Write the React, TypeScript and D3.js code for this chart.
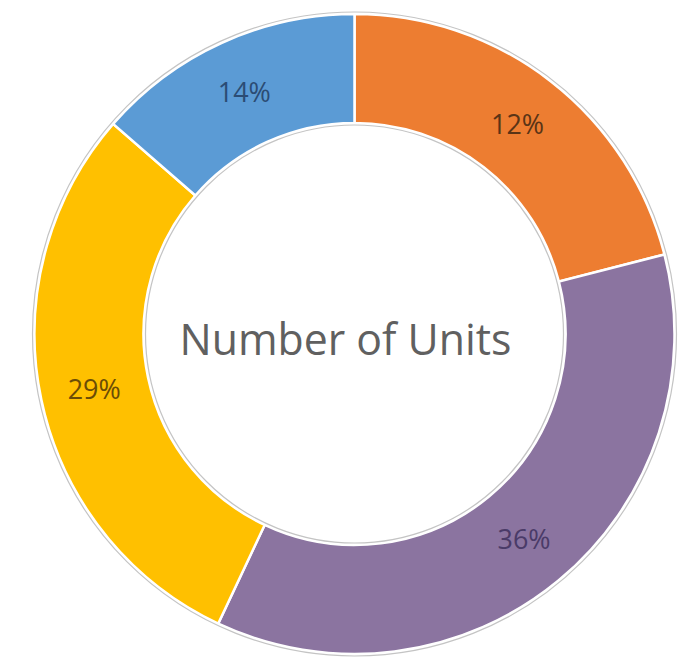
import React from "react";
import * as d3 from "d3";

const categories = ["Orange", "Purple", "Yellow", "Blue"];
const sliceValues = [21, 36, 29.4, 13.6];
const labelTexts = ["12%", "36%", "29%", "14%"];
const sliceColors = ["#ed7d31", "#8b74a0", "#ffc000", "#5b9bd5"];
const labelColors = ["#5a3416", "#4a3b68", "#6b4c06", "#2b4c74"];
const centerTitle = "Number of Units";

export default function App() {
  const W = 680, H = 660;
  const cx = 354.5, cy = 334;
  const R = 320, r = 211;
  const pie = d3.pie<number>().sort(null).value((d) => d);
  const arcs = pie(sliceValues);
  const arcGen = d3.arc<d3.PieArcDatum<number>>().innerRadius(r).outerRadius(R);
  const labelArc = d3.arc<d3.PieArcDatum<number>>().innerRadius(266).outerRadius(266);
  return (
    <svg width={W} height={H} style={{ position: "absolute", left: 0, top: 0, background: "#fff" }}>
      <g transform={`translate(${cx},${cy})`}>
        {arcs.map((a, i) => (
          <path key={categories[i]} d={arcGen(a) || ""} fill={sliceColors[i]} stroke="#ffffff" strokeWidth={2.5} />
        ))}
        <circle r={R + 2} fill="none" stroke="#c4c4c4" strokeWidth={1.2} />
        <circle r={r - 2} fill="none" stroke="#c4c4c4" strokeWidth={1.2} />
        {arcs.map((a, i) => {
          const [x, y] = labelArc.centroid(a);
          return (
            <text key={"l" + i} x={x} y={y} dy="0.35em" textAnchor="middle"
              fontFamily="'Open Sans', sans-serif" fontSize={28} fill={labelColors[i]}
              textLength={53} lengthAdjust="spacingAndGlyphs">
              {labelTexts[i]}
            </text>
          );
        })}
        <text x={-9} y={21} textAnchor="middle" fontFamily="'Open Sans', sans-serif" fontSize={44}
          fill="#606060" textLength={332} lengthAdjust="spacingAndGlyphs">
          {centerTitle}
        </text>
      </g>
    </svg>
  );
}
